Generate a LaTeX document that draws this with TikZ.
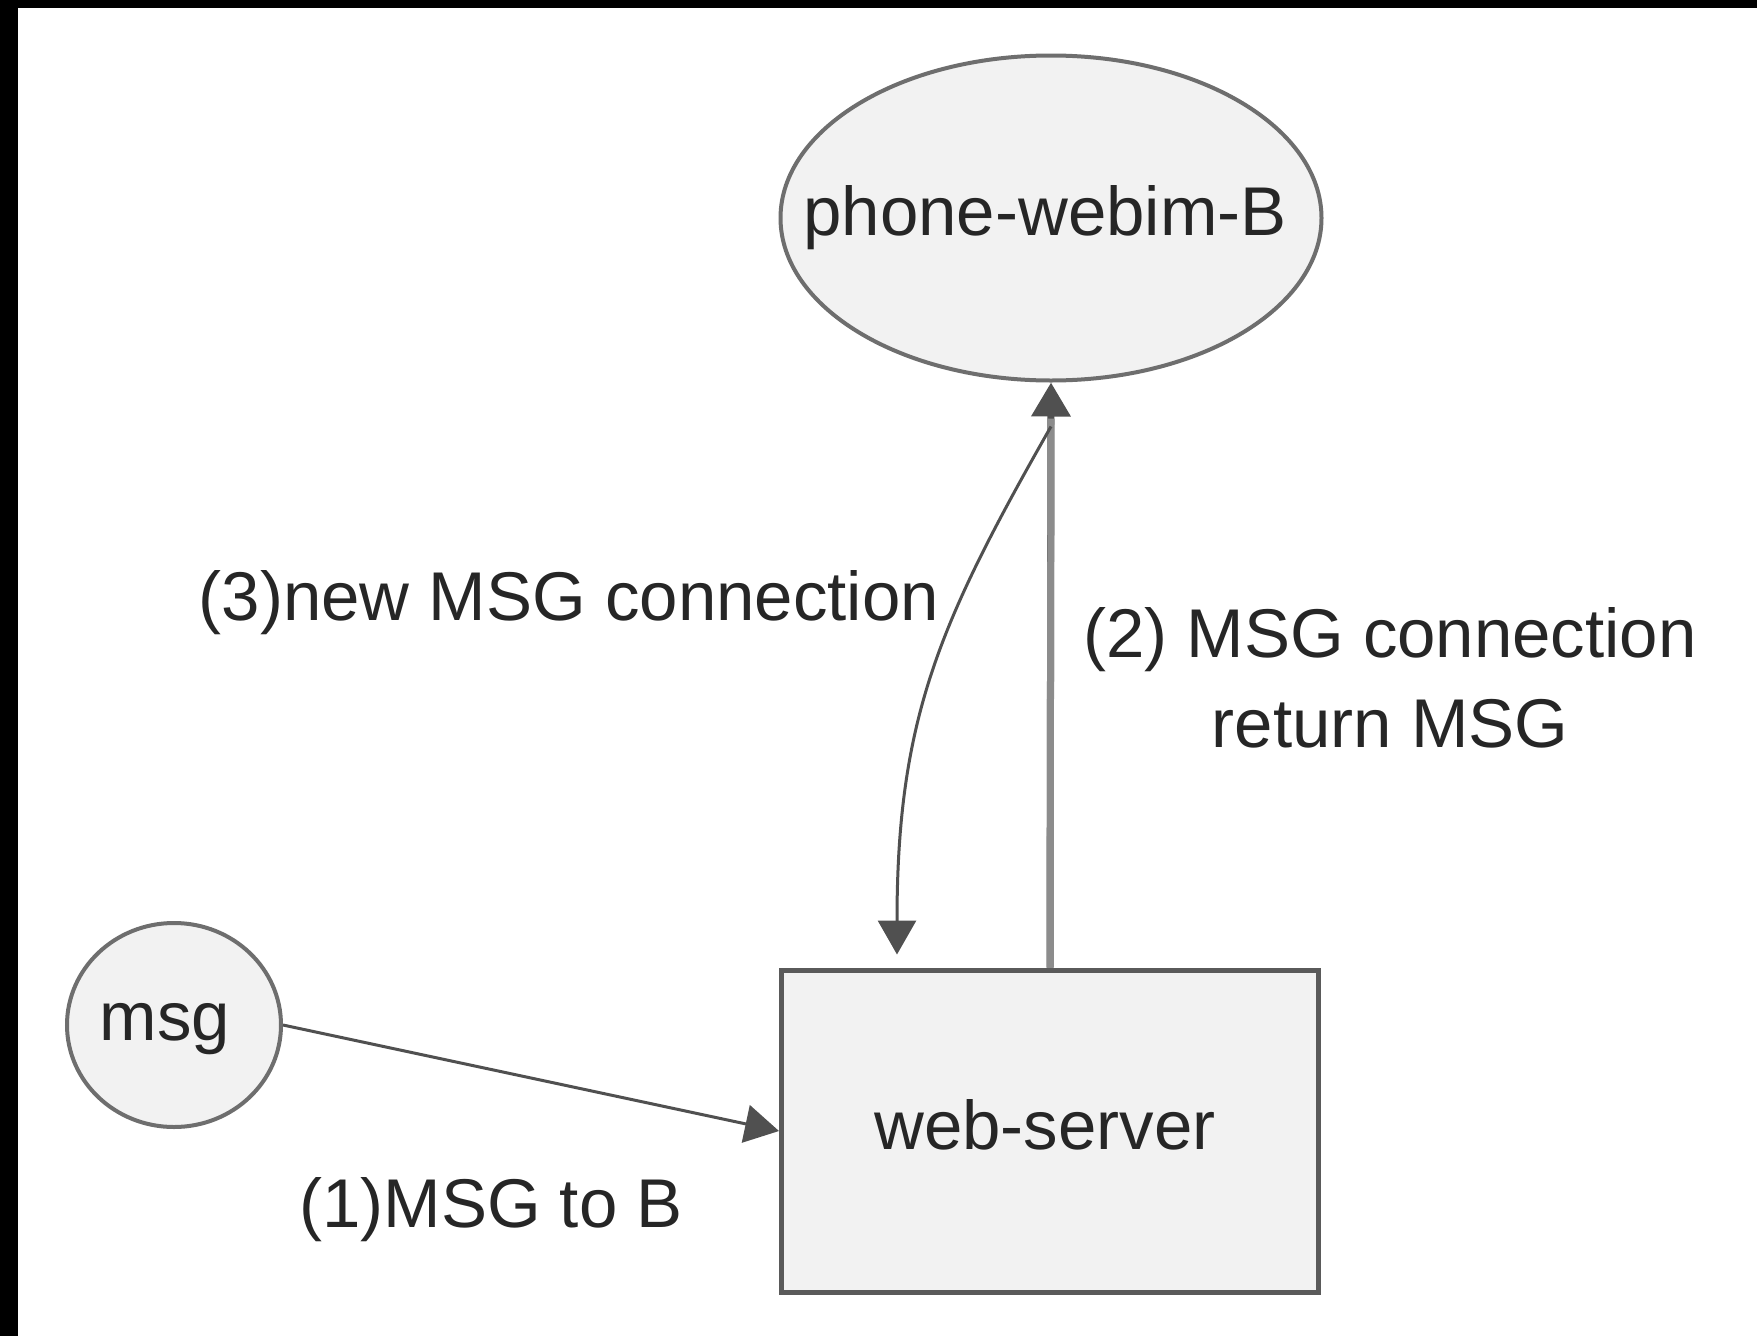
\documentclass[tikz,border=0pt]{standalone}
\usepackage{fontspec}
\setmainfont{Liberation Sans}
\usetikzlibrary{arrows.meta,calc,shapes.geometric}

\definecolor{inkgray}{HTML}{262626}
\definecolor{edgegray}{HTML}{5A5A5A}
\definecolor{ringgray}{HTML}{6E6E6E}
\definecolor{linkgray}{HTML}{505050}
\definecolor{paletrunk}{HTML}{8C8C8C}
\definecolor{shapefill}{HTML}{F2F2F2}

\tikzset{
  txt/.style={font=\fontsize{69}{90}\selectfont, text=inkgray},
  oval/.style={ellipse, draw=ringgray, line width=4pt, fill=shapefill, inner sep=0pt},
  serverbox/.style={rectangle, draw=edgegray, line width=5pt, fill=shapefill, inner sep=0pt},
  tip/.style={-{Triangle[length=34pt,width=38pt]}},
  conn/.style={tip, draw=linkgray, line width=3pt, color=linkgray},
  lbl/.style={txt, inner sep=0pt}
}

\begin{document}
\begin{tikzpicture}[x=1pt, y=-1pt]
  % page and dark frame edges
  \useasboundingbox (0,0) rectangle (1757,1336);
  \fill[white] (0,0) rectangle (1757,1336);
  \fill[black] (0,0) rectangle (1757,8);
  \fill[black] (0,0) rectangle (18,1336);

  % nodes
  \node[oval, minimum width=541pt, minimum height=325pt,
        label={[txt, xshift=-6pt]center:phone-webim-B}] (ph) at (1051,218) {};
  \node[oval, minimum width=214pt, minimum height=204pt,
        label={[txt, xshift=-9pt, yshift=-4pt]center:msg}] (msg) at (174,1025) {};
  \node[serverbox, minimum width=537pt, minimum height=322pt,
        label={[txt, xshift=-5pt, yshift=6pt]center:web-server}] (ws) at (1050,1131) {};

  % connectors
  \draw[conn] (msg.east) -- (ws.west);
  \draw[{Triangle[length=34pt,width=38pt]}-, draw=paletrunk, line width=7pt, color=linkgray]
    (ph.south) -- (ws.north);
  \draw[paletrunk, line width=7pt] (ws.north) -- ($(ph.south)+(0,36)$);
  \coordinate (split) at ($(ph.south)+(0,44)$);
  \draw[conn, shorten >=13pt] (split)
    .. controls ($(split)+(-111,195)$) and ($(ws.north west)+(118,-250)$)
    .. ($(ws.north west)+(118,0)$);

  % labels
  \node[lbl, anchor=base] (l3) at (569,620) {(3)new MSG connection};
  \node[lbl, anchor=base, align=center] (l2) at (1390,747) {(2) MSG connection\\return MSG};
  \node[lbl, anchor=base] (l1) at (491,1227) {(1)MSG to B};
\end{tikzpicture}
\end{document}
